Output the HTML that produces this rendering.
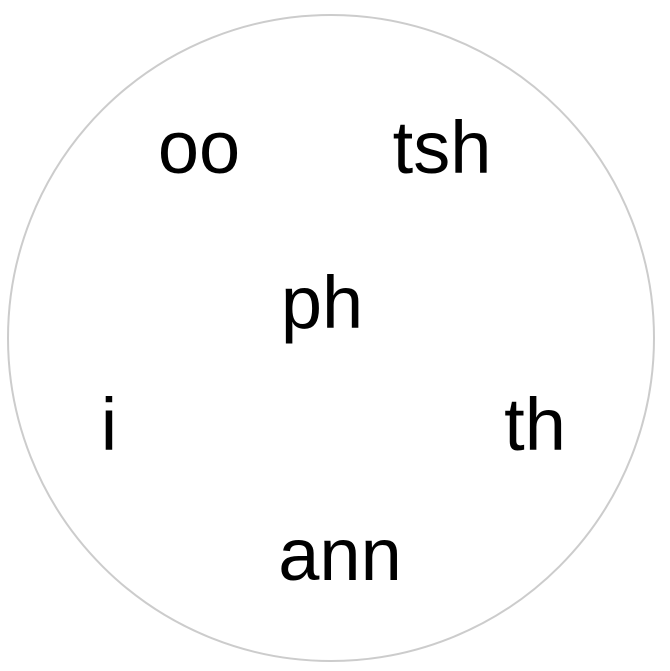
<!DOCTYPE html>
<html><head><meta charset="utf-8"><style>
html,body{margin:0;padding:0;background:#fff;}
svg{display:block;}
</style></head><body>
<svg id="chart" width="670" height="671" viewBox="0 0 670 671">
<circle cx="331" cy="338" r="323" fill="#fff" stroke="#cccccc" stroke-width="2"></circle>
<g id="words" font-family="'Liberation Sans', sans-serif" font-size="74" fill="#000" text-anchor="middle"></g>
</svg>
<script>
const words = ["oo","tsh","ph","i","th","ann"];
const wordX = [199,442,322,109,535,340];
const wordY = [173,173,328,450,450,580];
const g = document.getElementById('words');
words.forEach((w,i)=>{
  const t = document.createElementNS('http://www.w3.org/2000/svg','text');
  t.setAttribute('x', wordX[i]);
  t.setAttribute('y', wordY[i]);
  t.textContent = w;
  
  
  g.appendChild(t);
});
</script>
</body></html>
